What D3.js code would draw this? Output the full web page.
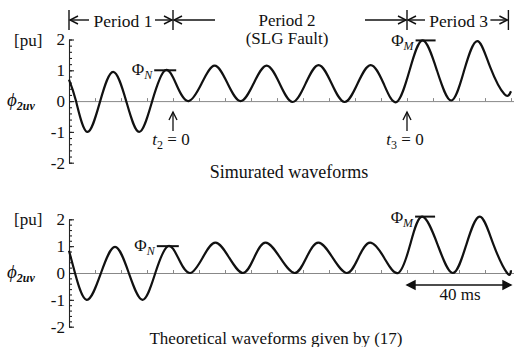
<!DOCTYPE html>
<html>
<head>
<meta charset="utf-8">
<script src="https://cdn.jsdelivr.net/npm/d3@7"></script>
<style>
  body { margin: 0; background: #fff; }
  svg text { font-family: "Liberation Serif", "Times New Roman", serif; fill: #111; }
</style>
</head>
<body>
<svg width="514" height="347"></svg>
<script>
// time in ms, flux linkage in pu
const simTime = [0, 2.7, 7, 12, 17, 22, 27, 32, 37, 41.5, 46, 51, 56, 61, 66, 71, 76, 81, 86, 91, 96, 101, 106, 111, 116, 121, 126, 131, 136, 141.5, 147, 152, 157, 162, 167.5, 170];
const simValue = [0.7, 0, -1.0, 0, 0.95, 0, -1.0, 0, 1.0, 0.5, 0, 0.57, 1.15, 0.57, 0, 0.57, 1.15, 0.57, -0.03, 0.57, 1.17, 0.57, -0.03, 0.57, 1.17, 0.57, -0.03, 1.0, 1.97, 1.0, 0.02, 1.0, 1.95, 1.1, 0.22, 0.32];

const theoTime = [0, 2.3, 6.8, 12.3, 17.7, 23, 28.3, 33.2, 38, 42.3, 46.6, 51.4, 56.3, 61.6, 66.9, 71.2, 75.6, 81.2, 86.8, 91.3, 95.9, 101.4, 106.9, 111.3, 115.8, 121.2, 126.6, 131.2, 135.8, 141.8, 147.6, 152.8, 158, 163.3, 168.5, 170];
const theoValue = [0.83, 0, -1.0, 0, 0.97, 0, -1.0, 0, 1.0, 0.5, 0, 0.57, 1.13, 0.57, 0, 0.57, 1.13, 0.57, 0, 0.57, 1.13, 0.57, 0, 0.57, 1.13, 0.57, 0, 1.05, 2.1, 1.05, 0, 1.05, 2.1, 1.05, 0, 0.1];

const yTicks = [-2, -1, 0, 1, 2];
const periodBounds = [0, 40, 130, 169];
const periodNames = ["Period 1", "Period 2", "Period 3"];
const faultTimes = [40, 130];
const peakN = { sim: [37, 1.0], theo: [38, 1.0] };
const peakM = { sim: [136, 1.97], theo: [135.8, 2.1] };
const spanMs = [130, 170];

const svg = d3.select("svg");

// shared time scale, 2.6 px per ms
const x = d3.scaleLinear().domain([0, 171]).range([69, 513.6]);
const yTop = d3.scaleLinear().domain([-2, 2]).range([162.7, 39.5]);
const yBot = d3.scaleLinear().domain([-2, 2]).range([326.7, 219.3]);

// open arrow head, dir = [dx, dy] of the pointing direction
function head(g, xt, yt, dx, dy, filled) {
  const l = 8, w = 4;
  const px = -dy, py = dx;
  const d = "M" + (xt - dx * l + px * w) + "," + (yt - dy * l + py * w) +
    "L" + xt + "," + yt +
    "L" + (xt - dx * l - px * w) + "," + (yt - dy * l - py * w);
  g.append("path")
    .attr("d", filled ? d + "Z" : d)
    .attr("fill", filled ? "#111" : "none")
    .attr("stroke", "#111")
    .attr("stroke-width", 1.4);
}

function line(g, x1, y1, x2, y2, w) {
  g.append("line")
    .attr("x1", x1).attr("y1", y1).attr("x2", x2).attr("y2", y2)
    .attr("stroke", "#111").attr("stroke-width", w || 1.4);
}

function drawPanel(y, times, values, peaks) {
  const g = svg.append("g");

  // zero line with 10 ms ticks
  g.append("g")
    .attr("transform", "translate(0," + y(0) + ")")
    .call(d3.axisBottom(x)
      .tickValues(d3.range(10, 171, 10))
      .tickSize(-3)
      .tickSizeOuter(0)
      .tickFormat(""))
    .call(a => a.selectAll("path,line").attr("stroke", "#888"));

  // y axis, major and minor ticks pointing inward
  g.append("g")
    .attr("transform", "translate(" + x(0) + ",0)")
    .call(d3.axisLeft(y)
      .tickValues(d3.range(-2, 2.01, 0.2))
      .tickSize(-3)
      .tickSizeOuter(0)
      .tickFormat(""))
    .call(a => a.selectAll("path,line").attr("stroke", "#222").attr("stroke-width", 1.1));
  g.append("g")
    .attr("transform", "translate(" + x(0) + ",0)")
    .call(d3.axisLeft(y)
      .tickValues(yTicks)
      .tickSize(-5)
      .tickPadding(4)
      .tickSizeOuter(0)
      .tickFormat(d => String(d)))
    .call(a => a.select(".domain").remove())
    .call(a => a.selectAll("line").attr("stroke", "#222").attr("stroke-width", 1.1))
    .call(a => a.selectAll("text")
      .style("font-family", "'Liberation Serif', serif")
      .style("font-size", "17px")
      .attr("fill", "#111"));

  g.append("text").attr("x", 14).attr("y", y(2) + 6).attr("font-size", 17).text("[pu]");
  const lab = g.append("text").attr("x", 7).attr("y", y(0) + 5);
  lab.append("tspan").attr("font-size", 19).attr("font-style", "italic").text("ϕ");
  lab.append("tspan").attr("font-size", 12).attr("font-style", "italic")
    .attr("font-weight", "bold").attr("dy", 4).text("2uv");

  // waveform
  const pts = times.map((t, i) => [t, values[i]]);
  g.append("path")
    .datum(pts)
    .attr("fill", "none")
    .attr("stroke", "#111")
    .attr("stroke-width", 2.2)
    .attr("stroke-linejoin", "round")
    .attr("d", d3.line()
      .x(d => x(d[0]))
      .y(d => y(d[1]))
      .curve(d3.curveNatural));

  // peak markers
  const [nT, nV] = peaks[0];
  line(g, x(nT) - 11, y(nV), x(nT) + 11, y(nV), 2);
  const tn = g.append("text").attr("x", x(nT) - 13).attr("y", y(nV) + 5)
    .attr("text-anchor", "end");
  tn.append("tspan").attr("font-size", 17).text("Φ");
  tn.append("tspan").attr("font-size", 12).attr("font-style", "italic").attr("dy", 4).text("N");

  const [mT, mV] = peaks[1];
  line(g, x(mT) - 7, y(mV), x(mT) + 13, y(mV), 2);
  const tm = g.append("text").attr("x", x(mT) - 9).attr("y", y(mV) + 6)
    .attr("text-anchor", "end");
  tm.append("tspan").attr("font-size", 17).text("Φ");
  tm.append("tspan").attr("font-size", 12).attr("font-style", "italic").attr("dy", 4).text("M");
  return g;
}

const topPanel = drawPanel(yTop, simTime, simValue, [peakN.sim, peakM.sim]);
const botPanel = drawPanel(yBot, theoTime, theoValue, [peakN.theo, peakM.theo]);

// period brackets above the top panel
const ay = 20;
periodBounds.forEach(t => line(topPanel, x(t), 10, x(t), 30, 1.4));
const pxs = periodBounds.map(x);
// period 1
line(topPanel, pxs[0] + 1, ay, pxs[0] + 20, ay); head(topPanel, pxs[0] + 1, ay, -1, 0);
line(topPanel, pxs[1] - 18, ay, pxs[1] - 1, ay); head(topPanel, pxs[1] - 1, ay, 1, 0);
topPanel.append("text").attr("x", (pxs[0] + pxs[1]) / 2 + 2).attr("y", 27)
  .attr("text-anchor", "middle").attr("font-size", 17.5).text(periodNames[0]);
// period 2
line(topPanel, pxs[1] + 1, ay, pxs[1] + 42, ay); head(topPanel, pxs[1] + 1, ay, -1, 0);
line(topPanel, pxs[2] - 42, ay, pxs[2] - 1, ay); head(topPanel, pxs[2] - 1, ay, 1, 0);
topPanel.append("text").attr("x", 287).attr("y", 26)
  .attr("text-anchor", "middle").attr("font-size", 17).text(periodNames[1]);
topPanel.append("text").attr("x", 287).attr("y", 43.5)
  .attr("text-anchor", "middle").attr("font-size", 17).text("(SLG Fault)");
// period 3
line(topPanel, pxs[2] + 1, ay, pxs[2] + 18, ay); head(topPanel, pxs[2] + 1, ay, -1, 0);
line(topPanel, pxs[3] - 18, ay, pxs[3] - 1, ay); head(topPanel, pxs[3] - 1, ay, 1, 0);
topPanel.append("text").attr("x", (pxs[2] + pxs[3]) / 2 + 1).attr("y", 27)
  .attr("text-anchor", "middle").attr("font-size", 17.5).text(periodNames[2]);

// fault instants
faultTimes.forEach((t, i) => {
  const xt = x(t);
  line(topPanel, xt, 112, xt, 131, 1.3);
  head(topPanel, xt, 112, 0, -1);
  const tx = topPanel.append("text").attr("x", xt - 2).attr("y", 145)
    .attr("text-anchor", "middle").attr("font-size", 17);
  tx.append("tspan").attr("font-style", "italic").text("t");
  tx.append("tspan").attr("font-size", 12).attr("dy", 4).text(i === 0 ? "2" : "3");
  tx.append("tspan").attr("dy", -4).text(" = 0");
});

topPanel.append("text").attr("x", 289).attr("y", 178)
  .attr("text-anchor", "middle").attr("font-size", 18).text("Simurated waveforms");

// 40 ms span
const sy = 285;
line(botPanel, x(spanMs[0]), sy, x(spanMs[1]), sy, 1.4);
head(botPanel, x(spanMs[0]), sy, -1, 0, true);
head(botPanel, x(spanMs[1]), sy, 1, 0, true);
botPanel.append("text").attr("x", 460).attr("y", 300)
  .attr("text-anchor", "middle").attr("font-size", 17).text((spanMs[1] - spanMs[0]) + " ms");

botPanel.append("text").attr("x", 276).attr("y", 344)
  .attr("text-anchor", "middle").attr("font-size", 17).text("Theoretical waveforms given by (17)");
</script>
</body>
</html>
